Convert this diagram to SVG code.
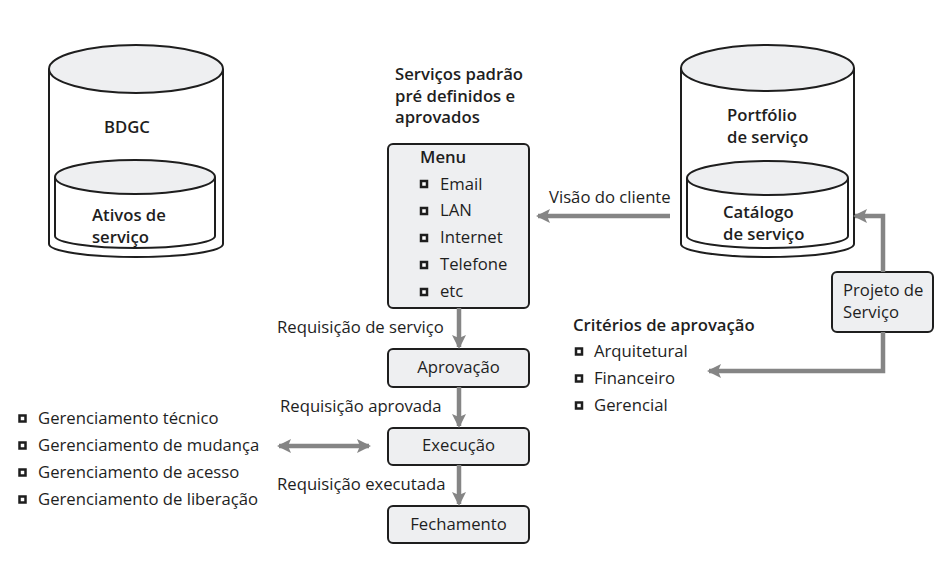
<svg xmlns="http://www.w3.org/2000/svg" width="945" height="566" viewBox="0 0 945 566">
<defs>
<style>
.t{font-family:"Open Sans","Noto Sans","Liberation Sans",sans-serif;font-size:16.7px;fill:#1e1e1e}
.b{font-weight:600}
.cyl{fill:#ffffff;stroke:#1e1e1e;stroke-width:2}
.top{fill:#eeeff1;stroke:#1e1e1e;stroke-width:2}
.box{fill:#eeeff1;stroke:#1e1e1e;stroke-width:2}
.bul{fill:#ffffff;stroke:#1e1e1e;stroke-width:2.5}
.arr{fill:none;stroke:#858585;stroke-width:4.5}
</style>
<marker id="ah" viewBox="0 0 14 14" refX="12" refY="7" markerWidth="14" markerHeight="14" markerUnits="userSpaceOnUse" orient="auto-start-reverse">
<path d="M0,0 L14,7 L0,14 L3,7 Z" fill="#858585"/>
</marker>
</defs>
<rect width="945" height="566" fill="#ffffff"/>

<g id="bdgc">
<path class="cyl" d="M49,69 L49,244 A87,13 0 0 0 223,244 L223,69"/>
<ellipse class="top" cx="136" cy="69" rx="87" ry="24"/>
<path class="cyl" d="M55,177 L55,236 A80,12 0 0 0 215,236 L215,177"/>
<ellipse class="top" cx="135" cy="177" rx="80" ry="17"/>
<text class="t b" x="104" y="133">BDGC</text>
<text class="t b" x="92" y="221">Ativos de</text>
<text class="t b" x="92" y="243">serviço</text>
</g>

<g id="portfolio">
<path class="cyl" d="M681,68 L681,244 A86.5,13 0 0 0 854,244 L854,68"/>
<ellipse class="top" cx="767.5" cy="68" rx="86.5" ry="23"/>
<path class="cyl" d="M687,178 L687,236 A80.5,12 0 0 0 848,236 L848,178"/>
<ellipse class="top" cx="767.5" cy="178" rx="80.5" ry="17"/>
<text class="t b" x="727" y="121">Portfólio</text>
<text class="t b" x="727" y="143">de serviço</text>
<text class="t b" x="723" y="218">Catálogo</text>
<text class="t b" x="723" y="240">de serviço</text>
</g>

<g id="titulo">
<text class="t b" x="395" y="80">Serviços padrão</text>
<text class="t b" x="395" y="102">pré definidos e</text>
<text class="t b" x="395" y="123">aprovados</text>
</g>

<g id="menu">
<rect class="box" x="388" y="144" width="141" height="164" rx="5"/>
<text class="t b" x="420" y="163">Menu</text>
<rect class="bul" x="421" y="181" width="6" height="6"/>
<text class="t" x="440" y="190">Email</text>
<rect class="bul" x="421" y="208" width="6" height="6"/>
<text class="t" x="440" y="216">LAN</text>
<rect class="bul" x="421" y="235" width="6" height="6"/>
<text class="t" x="440" y="243">Internet</text>
<rect class="bul" x="421" y="262" width="6" height="6"/>
<text class="t" x="440" y="270">Telefone</text>
<rect class="bul" x="421" y="289" width="6" height="6"/>
<text class="t" x="440" y="297">etc</text>
</g>

<g id="aprovacao">
<rect class="box" x="388" y="349" width="141" height="38" rx="5"/>
<text class="t" x="458.5" y="373" text-anchor="middle">Aprovação</text>
</g>
<g id="execucao">
<rect class="box" x="388" y="428" width="141" height="37" rx="5"/>
<text class="t" x="458.5" y="451" text-anchor="middle">Execução</text>
</g>
<g id="fechamento">
<rect class="box" x="388" y="506" width="141" height="37" rx="5"/>
<text class="t" x="458.5" y="530" text-anchor="middle">Fechamento</text>
</g>

<g id="projeto">
<rect class="box" x="832" y="272" width="101" height="60" rx="5"/>
<text class="t" x="843" y="296">Projeto de</text>
<text class="t" x="843" y="318">Serviço</text>
</g>

<g id="gerenciamento">
<rect class="bul" x="19.5" y="415.5" width="6" height="6"/>
<text class="t" x="38" y="424">Gerenciamento técnico</text>
<rect class="bul" x="19.5" y="442.5" width="6" height="6"/>
<text class="t" x="38" y="451">Gerenciamento de mudança</text>
<rect class="bul" x="19.5" y="469.5" width="6" height="6"/>
<text class="t" x="38" y="478">Gerenciamento de acesso</text>
<rect class="bul" x="19.5" y="496.5" width="6" height="6"/>
<text class="t" x="38" y="505">Gerenciamento de liberação</text>
</g>

<g id="criterios">
<text class="t b" x="573" y="331">Critérios de aprovação</text>
<rect class="bul" x="576" y="348.5" width="6" height="6"/>
<text class="t" x="594" y="357">Arquitetural</text>
<rect class="bul" x="576" y="375.5" width="6" height="6"/>
<text class="t" x="594" y="384">Financeiro</text>
<rect class="bul" x="576" y="402.5" width="6" height="6"/>
<text class="t" x="594" y="411">Gerencial</text>
</g>

<g id="connectors">
<path class="arr" d="M670,216 L538,216" marker-end="url(#ah)"/>
<text class="t" x="549" y="203">Visão do cliente</text>
<path class="arr" d="M883,272 L883,216 L855,216" marker-end="url(#ah)"/>
<path class="arr" d="M883,332 L883,371 L709,371" marker-end="url(#ah)"/>
<path class="arr" d="M459,308 L459,347" marker-end="url(#ah)"/>
<text class="t" x="277" y="333">Requisição de serviço</text>
<path class="arr" d="M459,387 L459,426" marker-end="url(#ah)"/>
<text class="t" x="280" y="412">Requisição aprovada</text>
<path class="arr" d="M459,465 L459,504" marker-end="url(#ah)"/>
<text class="t" x="277" y="490">Requisição executada</text>
<path class="arr" d="M279,446 L369,446" marker-start="url(#ah)" marker-end="url(#ah)"/>
</g>
</svg>
